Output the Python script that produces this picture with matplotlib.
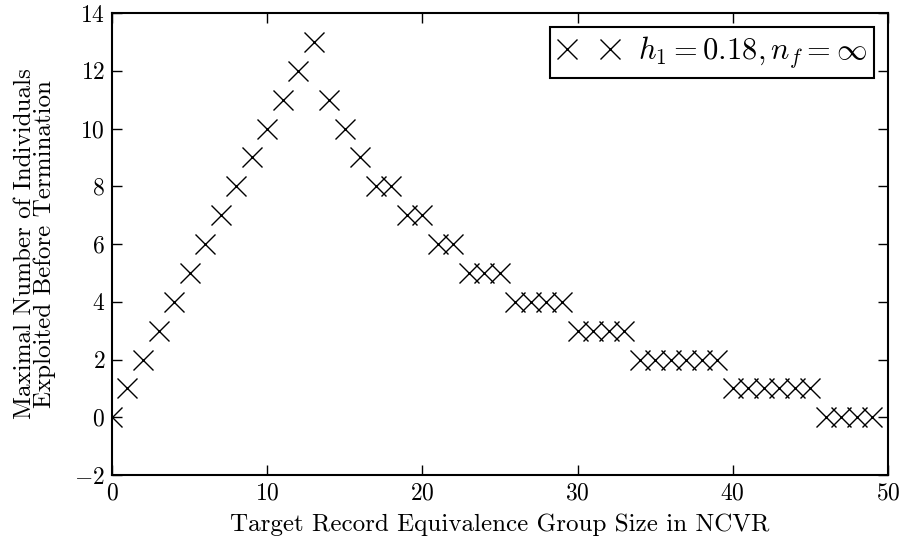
import matplotlib
matplotlib.use("Agg")
import matplotlib.pyplot as plt

plt.rcParams['font.family'] = 'serif'
plt.rcParams['font.serif'] = ['cmr10']
plt.rcParams['mathtext.fontset'] = 'cm'
plt.rcParams['axes.formatter.use_mathtext'] = True

# group size in NCVR vs. number of individuals exploited
group_size = list(range(50))
exploited = [0, 1, 2, 3, 4, 5, 6, 7, 8, 9, 10, 11, 12, 13,
             11, 10, 9, 8, 8, 7, 7, 6, 6, 5, 5, 5,
             4, 4, 4, 4, 3, 3, 3, 3,
             2, 2, 2, 2, 2, 2,
             1, 1, 1, 1, 1, 1,
             0, 0, 0, 0]

fig = plt.figure(figsize=(9.06, 5.42), dpi=100)
ax = fig.add_axes([0.1236, 0.1236, 0.8564, 0.8524])

ax.plot(group_size, exploited, linestyle='none', marker='x', color='black',
        markersize=14, markeredgewidth=1.0, label=r'$h_1 = 0.18, n_f = \infty$')

ax.set_xlim(0, 50)
ax.set_ylim(-2, 14)
ax.set_xticks([0, 10, 20, 30, 40, 50])
ax.set_yticks(range(-2, 15, 2))
ax.tick_params(direction='in', length=7, width=1, top=True, right=True,
               labelsize=17, pad=5)
for s in ax.spines.values():
    s.set_linewidth(1.5)

ax.set_xlabel('Target Record Equivalence Group Size in NCVR',
              fontsize=18, labelpad=7)
ax.set_ylabel('Maximal Number of Individuals\nExploited Before Termination',
              fontsize=18, linespacing=0.85, labelpad=13)

leg = ax.legend(loc='upper right', numpoints=2, fontsize=22, fancybox=False,
                framealpha=1, edgecolor='black', borderaxespad=0.45,
                handlelength=2.0, handletextpad=0.6, borderpad=0.25)
leg.get_frame().set_linewidth(1.5)

fig.savefig('out.png', dpi=100)
